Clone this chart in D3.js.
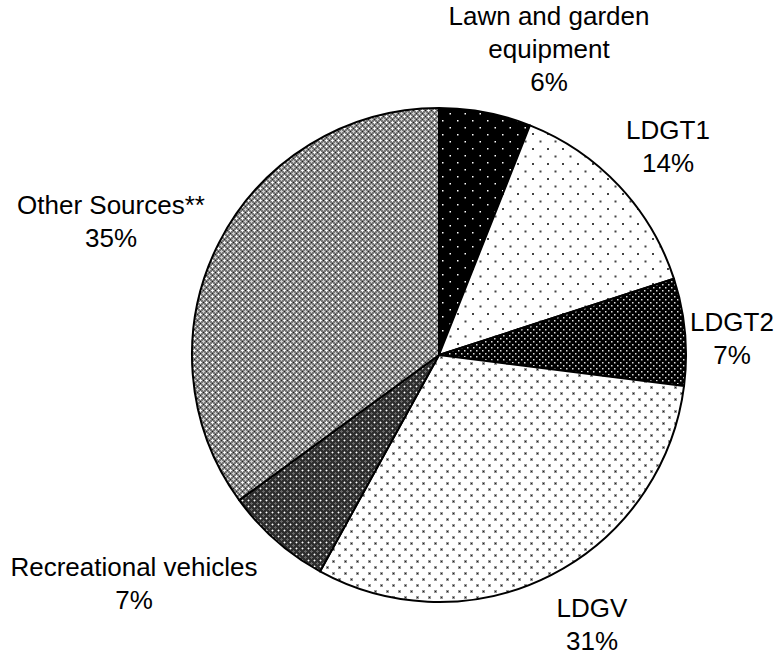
<!DOCTYPE html>
<html>
<head>
<meta charset="utf-8">
<script src="https://cdn.jsdelivr.net/npm/d3@7"></script>
<style>
  body { margin: 0; background: #fff; }
  text { font-family: "Liberation Sans", Arial, sans-serif; font-size: 26px; fill: #000; }
</style>
</head>
<body>
<script>
var width = 784;
var height = 658;

// data, clockwise from 12 o'clock
var categories = ["Lawn and garden equipment", "LDGT1", "LDGT2", "LDGV", "Recreational vehicles", "Other Sources**"];
var shares = [6, 14, 7, 31, 7, 35];
var labelLines = [
  ["Lawn and garden", "equipment", "6%"],
  ["LDGT1", "14%"],
  ["LDGT2", "7%"],
  ["LDGV", "31%"],
  ["Recreational vehicles", "7%"],
  ["Other Sources**", "35%"]
];
var labelPos = [[549, 25], [668, 139], [732, 331], [592, 617], [134, 576], [111, 214]];

var svg = d3.select("body").append("svg")
    .attr("width", width)
    .attr("height", height);

var defs = svg.append("defs");

// fill patterns, roughly like the old print hatches
function pattern(id, w, h, bg, rects) {
  var p = defs.append("pattern")
    .attr("id", id)
    .attr("patternUnits", "userSpaceOnUse")
    .attr("width", w).attr("height", h);
  p.append("rect").attr("width", w).attr("height", h).attr("fill", bg);
  rects.forEach(function(d) {
    p.append("rect")
      .attr("x", d[0]).attr("y", d[1])
      .attr("width", d[2]).attr("height", d[3])
      .attr("fill", d[4]);
  });
}

pattern("p0", 15, 14, "#000", [[3, 3, 1.5, 1.5, "#fff"], [10.5, 10, 1.5, 1.5, "#fff"]]);
pattern("p1", 15, 15, "#fff", [[3, 3, 2, 2, "#444"], [10.5, 10.5, 2, 2, "#444"]]);
pattern("p2", 6, 6, "#000", [[1, 1, 1.5, 1.5, "#ddd"], [4, 4, 1.5, 1.5, "#ddd"]]);
pattern("p3", 12, 12, "#fff", [
  [1, 1, 3, 3, "#999"], [2, 2, 1, 1, "#222"],
  [7, 7, 3, 3, "#999"], [8, 8, 1, 1, "#222"]
]);
// dark cross-hatch (recreational vehicles)
pattern("p4", 6, 6, "#2e2e2e", [
  [0, 1, 3, 1, "#888"], [1, 0, 1, 3, "#888"], [1, 1, 1, 1, "#fff"],
  [3, 4, 3, 1, "#666"], [4, 3, 1, 3, "#666"]
]);
// medium grey cross-hatch (other sources)
pattern("p5", 6, 6, "#7a7a7a", [
  [0, 1, 3, 1, "#eee"], [1, 0, 1, 3, "#eee"], [1, 1, 1, 1, "#fff"],
  [3, 4, 3, 1, "#ccc"], [4, 3, 1, 3, "#ccc"], [4, 1, 1, 1, "#222"], [1, 4, 1, 1, "#222"]
]);

var cx = 439, cy = 355, radius = 247;

var pie = d3.pie().sort(null).value(function(d) { return d; });
var arc = d3.arc().innerRadius(0).outerRadius(radius);

var g = svg.append("g").attr("transform", "translate(" + cx + "," + cy + ")");

g.selectAll(".slice")
  .data(pie(shares))
  .enter().append("path")
  .attr("class", "slice")
  .attr("d", arc)
  .attr("fill", function(d, i) { return "url(#p" + i + ")"; })
  .attr("stroke", "#000")
  .attr("stroke-width", 2)
  .attr("stroke-linejoin", "round");

var labels = svg.selectAll(".label")
  .data(labelLines)
  .enter().append("text")
  .attr("class", "label")
  .attr("text-anchor", "middle")
  .attr("x", function(d, i) { return labelPos[i][0]; })
  .attr("y", function(d, i) { return labelPos[i][1]; });

labels.selectAll("tspan")
  .data(function(d, i) { return d.map(function(s) { return { s: s, i: i }; }); })
  .enter().append("tspan")
  .attr("x", function(d) { return labelPos[d.i][0]; })
  .attr("dy", function(d, j) { return j === 0 ? 0 : 33; })
  .text(function(d) { return d.s; });
</script>
</body>
</html>
